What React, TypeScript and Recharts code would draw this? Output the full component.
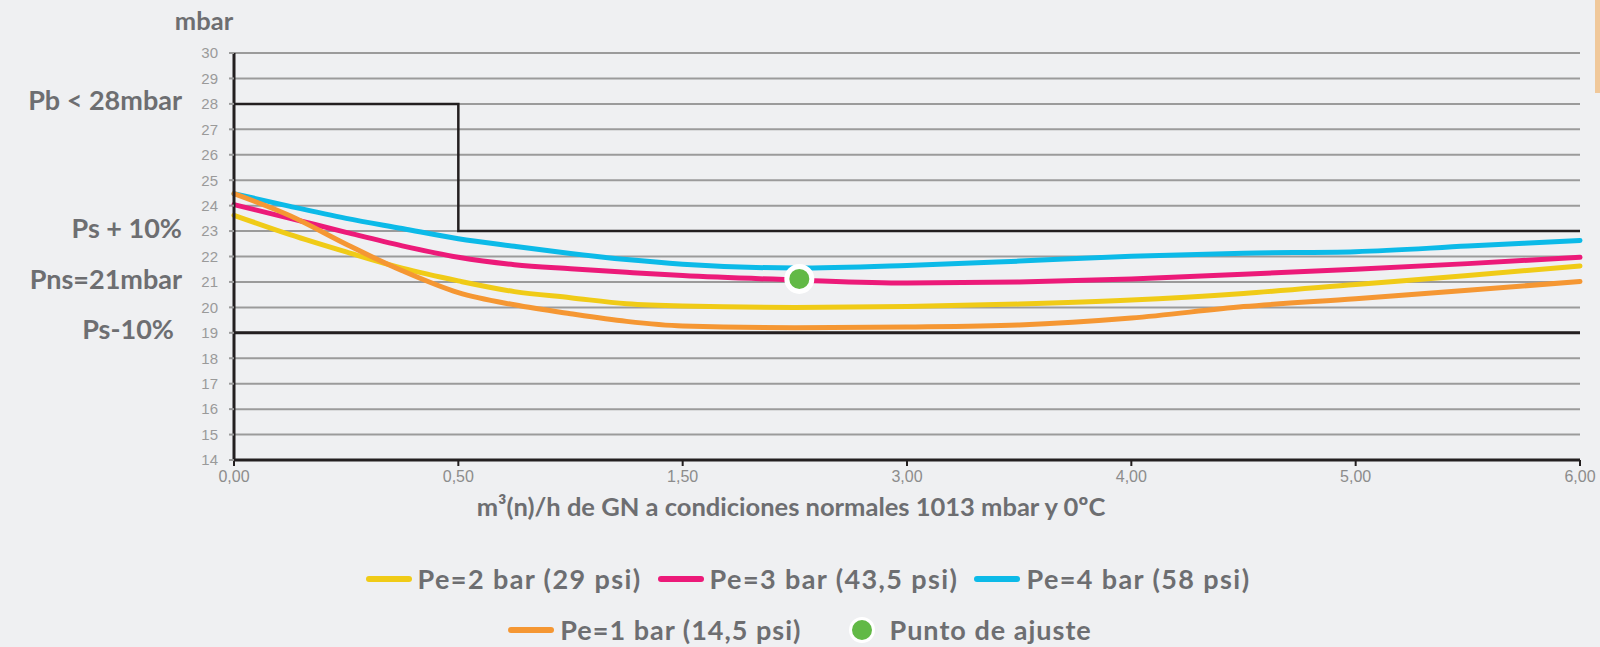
import React from 'react';
import {
  ComposedChart,
  Line,
  Scatter,
  XAxis,
  YAxis,
  CartesianGrid,
  ReferenceLine,
  Legend,
} from 'recharts';

// x is the tick index (0..6), labels are the printed flow values
const xPos = [0, 0.25, 0.5, 0.75, 1, 1.25, 1.5, 1.75, 2, 2.5, 3, 3.5, 4, 4.5, 5, 5.5, 6];
const xTickLabels = ['0,00', '0,50', '1,50', '3,00', '4,00', '5,00', '6,00'];
const yTicks = [14, 15, 16, 17, 18, 19, 20, 21, 22, 23, 24, 25, 26, 27, 28, 29, 30];

const pe1 = [24.47, 23.6, 22.48, 21.44, 20.58, 20.1, 19.75, 19.45, 19.27, 19.2, 19.23, 19.31, 19.58, 20.03, 20.34, 20.67, 21.02];
const pe2 = [23.62, 22.86, 22.18, 21.54, 21.04, 20.62, 20.38, 20.14, 20.05, 20.0, 20.03, 20.13, 20.29, 20.55, 20.9, 21.25, 21.63];
const pe3 = [24.04, 23.5, 22.95, 22.42, 21.97, 21.68, 21.52, 21.38, 21.25, 21.08, 20.96, 21.0, 21.12, 21.3, 21.5, 21.72, 21.97];
const pe4 = [24.47, 23.97, 23.5, 23.1, 22.7, 22.4, 22.12, 21.88, 21.7, 21.55, 21.65, 21.82, 22.01, 22.13, 22.19, 22.41, 22.63];

// upper limit step (Pb < 28 then Ps + 10%)
const limitX = [0, 1, 1, 6];
const limitY = [28, 28, 23, 23];

const adjustPoint = [{ x: 2.52, y: 21.12 }];

const levelLabels = [
  { y: 28, text: 'Pb < 28mbar', offset: 52 },
  { y: 23, text: 'Ps + 10%', offset: 52 },
  { y: 21, text: 'Pns=21mbar', offset: 52 },
  { y: 19, text: 'Ps-10%', offset: 60 },
];

const series = [
  { key: 'pe2', name: 'Pe=2 bar (29 psi)', color: '#F0CB17', values: pe2 },
  { key: 'pe3', name: 'Pe=3 bar (43,5 psi)', color: '#EC1A79', values: pe3 },
  { key: 'pe4', name: 'Pe=4 bar (58 psi)', color: '#0CBAE8', values: pe4 },
  { key: 'pe1', name: 'Pe=1 bar (14,5 psi)', color: '#F59733', values: pe1 },
];

const curveData = xPos.map((x, i) => {
  const row: Record<string, number> = { x };
  series.forEach((s) => {
    row[s.key] = s.values[i];
  });
  return row;
});

const limitData = limitX.map((x, i) => ({ x, y: limitY[i] }));

const GREEN = '#62B946';
const LABEL = '#6D6E71';
const BOLD_FONT = 'Lato, "Open Sans", sans-serif';

const Swatch = ({ color }: { color: string }) => (
  <span
    style={{
      display: 'inline-block',
      width: 46,
      height: 6,
      borderRadius: 3,
      background: color,
      marginRight: 6,
    }}
  />
);

const renderLegend = () => {
  const itemStyle: React.CSSProperties = { display: 'flex', alignItems: 'center' };
  const rowStyle: React.CSSProperties = { display: 'flex', height: 33, alignItems: 'center' };
  return (
    <div
      style={{
        fontFamily: BOLD_FONT,
        fontWeight: 700,
        fontSize: 27,
        letterSpacing: 1,
        lineHeight: '33px',
        color: LABEL,
        display: 'flex',
        flexDirection: 'column',
        alignItems: 'center',
        gap: 18,
      }}
    >
      <div style={{ ...rowStyle, gap: 16, marginLeft: 16, letterSpacing: 1.4 }}>
        {series.slice(0, 3).map((s) => (
          <div key={s.key} style={itemStyle}>
            <Swatch color={s.color} />
            {s.name}
          </div>
        ))}
      </div>
      <div style={{ ...rowStyle, gap: 48 }}>
        <div style={itemStyle}>
          <Swatch color={series[3].color} />
          {series[3].name}
        </div>
        <div style={itemStyle}>
          <span
            style={{
              display: 'inline-block',
              width: 20,
              height: 20,
              borderRadius: 13,
              background: GREEN,
              border: '3px solid #fff',
              marginRight: 14,
            }}
          />
          Punto de ajuste
        </div>
      </div>
    </div>
  );
};

const AdjustDot = (props: any) => (
  <circle cx={props.cx} cy={props.cy} r={12.5} fill={GREEN} stroke="#fff" strokeWidth={5} />
);

export default function App() {
  return (
    <div
      style={{
        position: 'absolute',
        left: 0,
        top: 0,
        width: 1600,
        height: 647,
        background: '#EFF0F2',
        overflow: 'hidden',
      }}
    >
      <ComposedChart
        width={1600}
        height={647}
        data={curveData}
        margin={{ top: 53, right: 20, bottom: 157, left: 174 }}
      >
        <CartesianGrid horizontal vertical={false} stroke="#9B9B9B" strokeWidth={2} />
        <XAxis
          dataKey="x"
          type="number"
          domain={[0, 6]}
          ticks={[0, 1, 2, 3, 4, 5, 6]}
          tickFormatter={(v: number) => xTickLabels[v]}
          axisLine={{ stroke: '#231F20', strokeWidth: 3 }}
          tickLine={{ stroke: '#231F20', strokeWidth: 2 }}
          tickSize={6}
          tickMargin={5}
          tick={{ fill: '#8C8C8C', fontSize: 16, fontFamily: '"Liberation Sans Narrow", "Liberation Sans", sans-serif' }}
          height={30}
          label={{
            value: 'm³(n)/h de GN a condiciones normales 1013 mbar y 0ºC',
            position: 'bottom',
            offset: 8,
            dx: -116,
            fill: LABEL,
            fontSize: 25.5,
            fontWeight: 700,
            fontFamily: BOLD_FONT,
          }}
        />
        <YAxis
          type="number"
          domain={[14, 30]}
          ticks={yTicks}
          interval={0}
          width={60}
          axisLine={{ stroke: '#231F20', strokeWidth: 3 }}
          tickLine={{ stroke: '#9B9B9B', strokeWidth: 2 }}
          tickSize={5}
          tickMargin={11}
          tick={{ fill: '#9A9A9A', fontSize: 15, fontFamily: '"Liberation Sans", Arial, sans-serif' }}
          label={{
            value: 'mbar',
            position: 'top',
            offset: 23,
            dx: 0,
            fill: LABEL,
            fontSize: 25.5,
            fontWeight: 700,
            fontFamily: BOLD_FONT,
          }}
        />
        {levelLabels.map((l) => (
          <ReferenceLine
            key={l.text}
            y={l.y}
            stroke={l.y === 19 ? '#231F20' : 'none'}
            strokeWidth={3}
            label={{
              value: l.text,
              position: 'left',
              offset: l.offset,
              dy: -3,
              fill: LABEL,
              fontSize: 27,
              fontWeight: 700,
              fontFamily: BOLD_FONT,
            }}
          />
        ))}
        <Line
          data={limitData}
          dataKey="y"
          type="linear"
          stroke="#231F20"
          strokeWidth={2.5}
          dot={false}
          activeDot={false}
          isAnimationActive={false}
          legendType="none"
        />
        {series.map((s) => (
          <Line
            key={s.key}
            dataKey={s.key}
            name={s.name}
            type="monotone"
            stroke={s.color}
            strokeWidth={5}
            strokeLinecap="round"
            dot={false}
            activeDot={false}
            isAnimationActive={false}
          />
        ))}
        <Scatter
          data={adjustPoint}
          dataKey="y"
          name="Punto de ajuste"
          shape={AdjustDot}
          isAnimationActive={false}
        />
        <Legend
          layout="horizontal"
          verticalAlign="middle"
          align="center"
          content={renderLegend}
          wrapperStyle={{ top: 562, left: 0, width: 1600 }}
        />
      </ComposedChart>
      <div
        style={{
          position: 'absolute',
          right: 0,
          top: 0,
          width: 5,
          height: 93,
          background: '#F0C89A',
        }}
      />
    </div>
  );
}
